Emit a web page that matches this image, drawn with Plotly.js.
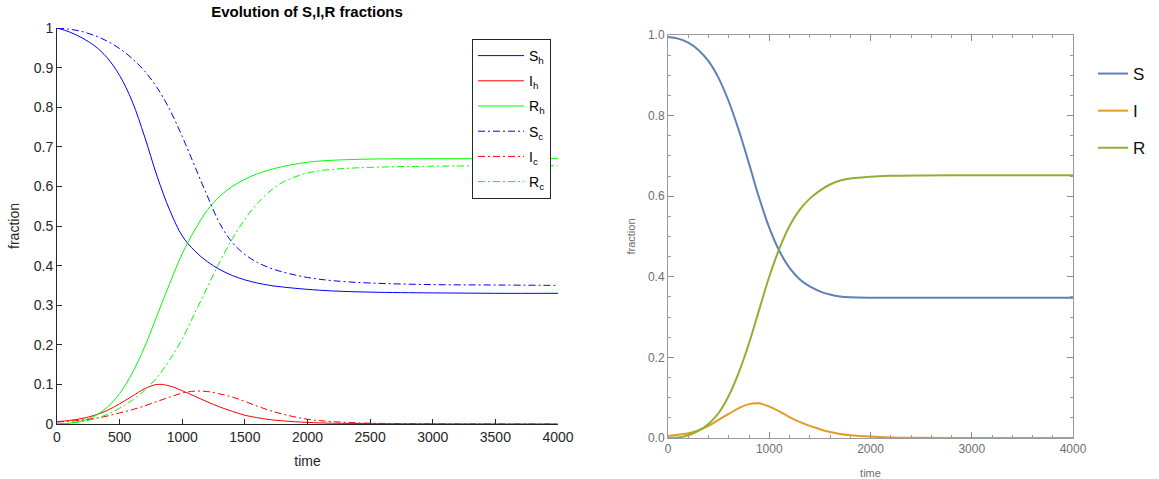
<!DOCTYPE html>
<html>
<head>
<meta charset="utf-8">
<script src="https://cdn.plot.ly/plotly-3.0.1.min.js"></script>
<style>html,body{margin:0;padding:0;background:#fff;}#chart{width:1159px;height:479px;}</style>
</head>
<body>
<div id="chart"></div>
<script>
// time grid (shared)
const time = [0,100,200,300,400,500,600,700,800,900,1000,1100,1200,1300,1400,1500,1600,1700,1800,2000,2200,2500,3000,3500,4000];

// left panel: h (solid) and c (dash-dot)
const Sh = [1.0,0.99,0.975,0.955,0.925,0.88,0.815,0.725,0.625,0.54,0.475,0.437,0.41,0.39,0.375,0.364,0.356,0.35,0.346,0.34,0.336,0.333,0.331,0.33,0.33];
const Ih = [0.006,0.009,0.014,0.022,0.034,0.051,0.07,0.089,0.1,0.096,0.084,0.07,0.056,0.043,0.032,0.022,0.016,0.011,0.008,0.004,0.002,0.001,0.0003,0.0001,0];
const Rh = [0,0.002,0.008,0.02,0.042,0.077,0.128,0.195,0.275,0.355,0.43,0.49,0.54,0.575,0.6,0.618,0.632,0.642,0.65,0.661,0.666,0.669,0.67,0.67,0.67];
const Sc = [1.0,0.997,0.991,0.981,0.967,0.948,0.923,0.891,0.849,0.794,0.726,0.651,0.576,0.506,0.458,0.428,0.408,0.394,0.384,0.37,0.362,0.356,0.352,0.351,0.35];
const Ic = [0.005,0.007,0.01,0.014,0.02,0.028,0.036,0.046,0.057,0.068,0.078,0.083,0.082,0.076,0.068,0.057,0.045,0.034,0.025,0.012,0.006,0.002,0.0005,0.0001,0];
const Rc = [0,0.002,0.006,0.013,0.024,0.04,0.06,0.085,0.118,0.162,0.215,0.28,0.345,0.41,0.468,0.517,0.557,0.588,0.61,0.634,0.643,0.648,0.651,0.652,0.652];

// right panel
const S = [0.995,0.991,0.981,0.963,0.935,0.893,0.835,0.763,0.681,0.596,0.522,0.464,0.422,0.394,0.376,0.364,0.356,0.351,0.349,0.348,0.348,0.348,0.348,0.348,0.348];
const I = [0.005,0.008,0.012,0.019,0.03,0.045,0.06,0.074,0.084,0.086,0.078,0.066,0.052,0.04,0.03,0.022,0.015,0.01,0.007,0.0035,0.0015,0.0005,0.0001,0,0];
const R = [0,0.001,0.007,0.018,0.035,0.062,0.105,0.163,0.235,0.318,0.4,0.47,0.526,0.566,0.594,0.614,0.629,0.639,0.644,0.6485,0.6505,0.6515,0.652,0.652,0.652];

const leftNames = ['S<sub>h</sub>','I<sub>h</sub>','R<sub>h</sub>','S<sub>c</sub>','I<sub>c</sub>','R<sub>c</sub>'];
const rightNames = ['S','I','R'];

const dd = '7px,3px,2px,3px';
const mk = (y,name,color,dash,xa,ya,lg,w,g) => ({x:time,y:y,name:name,type:'scatter',mode:'lines',
  line:{color:color,width:w,dash:dash,shape:'spline',smoothing:1},xaxis:xa,yaxis:ya,legend:lg,legendgroup:g});

const data = [
  mk(Sh,leftNames[0],'#0000ff','solid','x','y','legend',1,'a1'),
  mk(Ih,leftNames[1],'#ff0000','solid','x','y','legend',1,'a2'),
  mk(Rh,leftNames[2],'#00ff00','solid','x','y','legend',1,'a3'),
  mk(Sc,leftNames[3],'#0000ff',dd,'x','y','legend',1,'a4'),
  mk(Ic,leftNames[4],'#ff0000',dd,'x','y','legend',1,'a5'),
  mk(Rc,leftNames[5],'#00ff00',dd,'x','y','legend',1,'a6'),
  mk(S,rightNames[0],'#5e81b5','solid','x2','y2','legend2',2,'b1'),
  mk(I,rightNames[1],'#e19c24','solid','x2','y2','legend2',2,'b2'),
  mk(R,rightNames[2],'#8fb032','solid','x2','y2','legend2',2,'b3')
];

const W = 1159, H = 479;
const fL = {family:'Liberation Sans, Arial, sans-serif', size:14, color:'#262626'};
const fR = {family:'Liberation Sans, Arial, sans-serif', size:12, color:'#6e6e6e'};

const layout = {
  width:W, height:H, margin:{l:0,r:0,t:0,b:0},
  paper_bgcolor:'#fff', plot_bgcolor:'rgba(0,0,0,0)',
  showlegend:true,
  title:{text:'<b>Evolution of S,I,R fractions</b>', x:307/W, xanchor:'center', y:1-12/H, yanchor:'middle',
    font:{family:'Liberation Sans, Arial, sans-serif', size:15, color:'#000'}},
  xaxis:{domain:[57/W,558/W], range:[0,4000], tickvals:[0,500,1000,1500,2000,2500,3000,3500,4000],
    ticks:'inside', ticklen:5, tickcolor:'#262626', showline:true, linecolor:'#262626', linewidth:1,
    showgrid:false, zeroline:false, tickfont:fL, title:{text:'time', font:fL, standoff:12}, anchor:'y'},
  yaxis:{domain:[(H-424)/H,(H-28)/H], range:[0,1], tickvals:[0,0.1,0.2,0.3,0.4,0.5,0.6,0.7,0.8,0.9,1],
    ticktext:['0','0.1','0.2','0.3','0.4','0.5','0.6','0.7','0.8','0.9','1'],
    ticks:'inside', ticklen:5, tickcolor:'#262626', showline:true, linecolor:'#262626', linewidth:1,
    showgrid:false, zeroline:false, tickfont:fL, title:{text:'fraction', font:fL, standoff:10}, anchor:'x'},
  xaxis2:{domain:[668/W,1073/W], range:[0,4000], tickvals:[0,1000,2000,3000,4000],
    ticks:'inside', ticklen:6, tickcolor:'#8a8a8a', showline:true, linecolor:'#9a9a9a', linewidth:1, mirror:'allticks',
    minor:{dtick:200, ticks:'inside', ticklen:3, tickcolor:'#9a9a9a', showgrid:false},
    showgrid:false, zeroline:false, tickfont:fR,
    title:{text:'time', font:{family:fR.family,size:11,color:'#6e6e6e'}, standoff:14}, anchor:'y2'},
  yaxis2:{domain:[(H-438)/H,(H-35)/H], range:[0,1], tickvals:[0,0.2,0.4,0.6,0.8,1],
    ticktext:['0.0','0.2','0.4','0.6','0.8','1.0'],
    ticks:'inside', ticklen:6, tickcolor:'#8a8a8a', showline:true, linecolor:'#9a9a9a', linewidth:1, mirror:'allticks',
    minor:{dtick:0.05, ticks:'inside', ticklen:3, tickcolor:'#9a9a9a', showgrid:false},
    showgrid:false, zeroline:false, tickfont:fR,
    title:{text:'fraction', font:{family:fR.family,size:11,color:'#6e6e6e'}, standoff:10}, anchor:'x2'},
  legend:{x:472/W, y:1-39/H, xanchor:'left', yanchor:'top', bgcolor:'#fff', bordercolor:'#262626', borderwidth:1,
    font:{family:'Liberation Sans, Arial, sans-serif', size:14, color:'#000'}, itemwidth:46, tracegroupgap:4},
  legend2:{x:1093/W, y:1-56/H, xanchor:'left', yanchor:'top', bgcolor:'rgba(0,0,0,0)', borderwidth:0,
    font:{family:'Liberation Sans, Arial, sans-serif', size:17, color:'#111'}, itemwidth:30, tracegroupgap:12}
};

Plotly.newPlot('chart', data, layout, {displayModeBar:false, staticPlot:true});
</script>
</body>
</html>
